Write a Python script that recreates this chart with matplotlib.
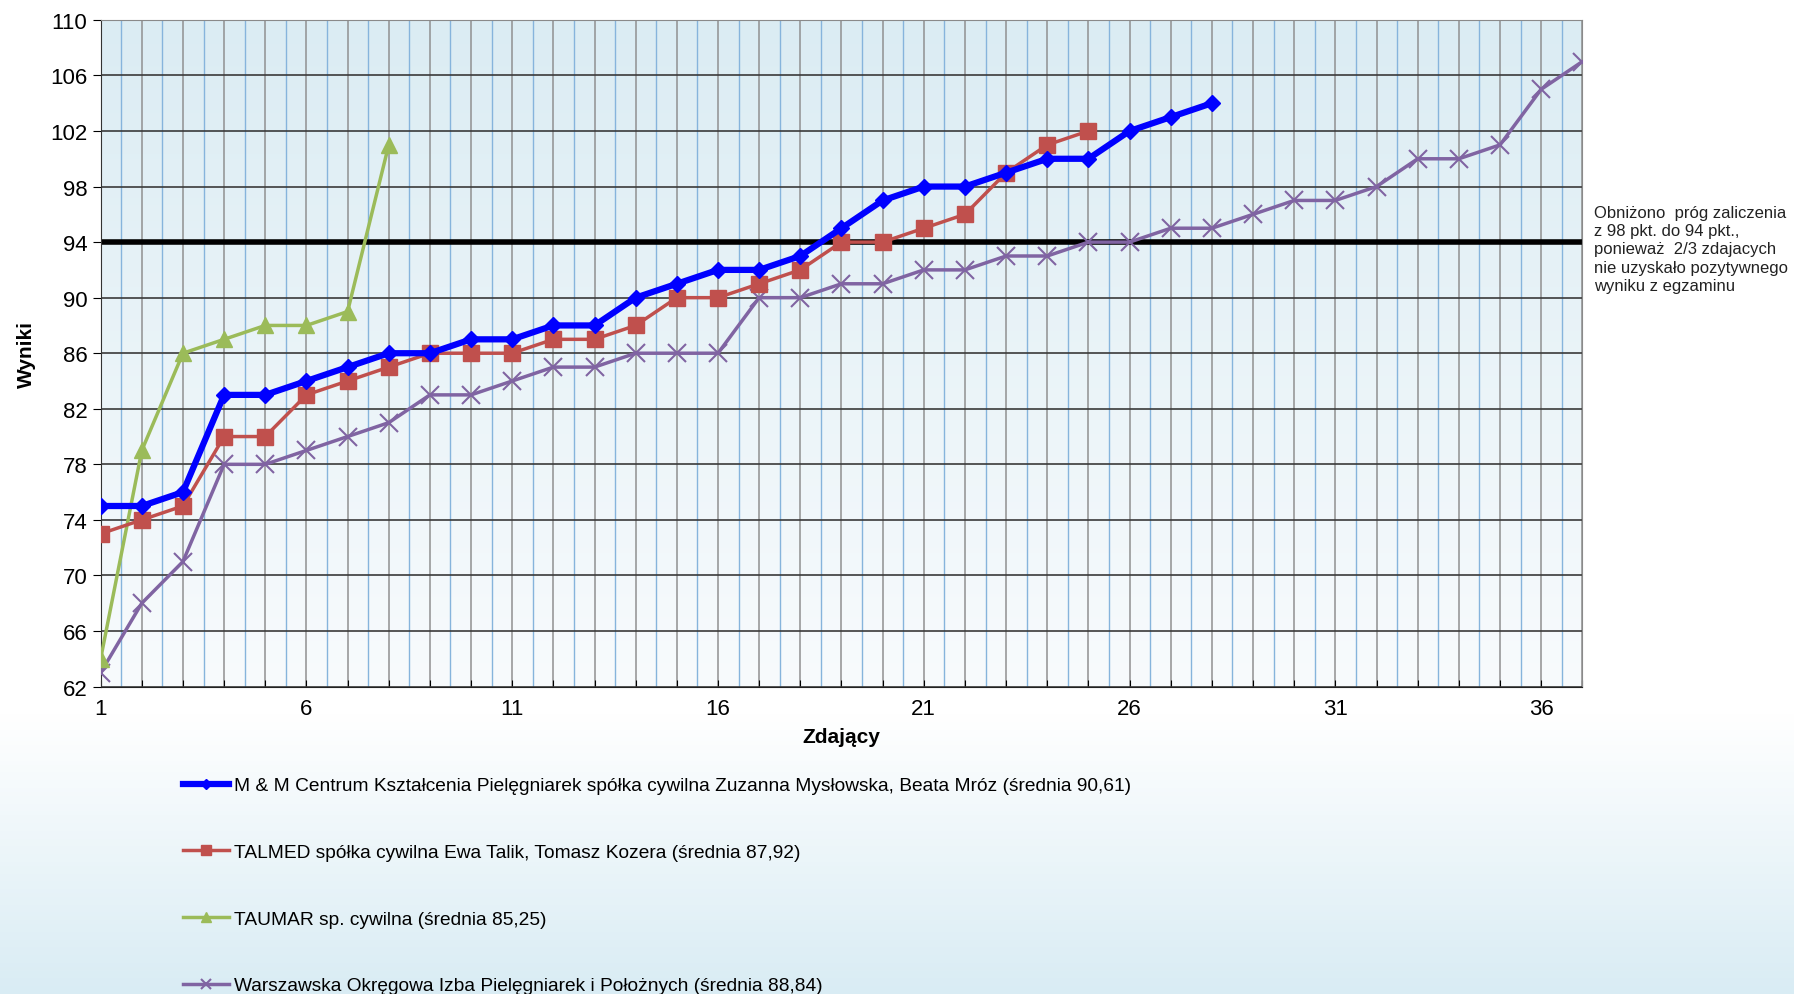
import numpy as np
import matplotlib
matplotlib.use('Agg')
import matplotlib.pyplot as plt
from matplotlib.colors import LinearSegmentedColormap

plt.rcParams['font.family'] = ['Liberation Sans', 'DejaVu Sans']

# data
mm = [75, 75, 76, 83, 83, 84, 85, 86, 86, 87, 87, 88, 88, 90, 91, 92, 92, 93, 95, 97,
      98, 98, 99, 100, 100, 102, 103, 104]
talmed = [73, 74, 75, 80, 80, 83, 84, 85, 86, 86, 86, 87, 87, 88, 90, 90, 91, 92, 94, 94,
          95, 96, 99, 101, 102]
taumar = [64, 79, 86, 87, 88, 88, 89, 101]
woipip = [63, 68, 71, 78, 78, 79, 80, 81, 83, 83, 84, 85, 85, 86, 86, 86, 90, 90, 91, 91,
          92, 92, 93, 93, 94, 94, 95, 95, 96, 97, 97, 98, 100, 100, 101, 105, 107]
labels = ['M & M Centrum Kształcenia Pielęgniarek spółka cywilna Zuzanna Mysłowska, Beata Mróz (średnia 90,61)',
          'TALMED spółka cywilna Ewa Talik, Tomasz Kozera (średnia 87,92)',
          'TAUMAR sp. cywilna (średnia 85,25)',
          'Warszawska Okręgowa Izba Pielęgniarek i Położnych (średnia 88,84)']
threshold = 94
note = ('Obniżono  próg zaliczenia\nz 98 pkt. do 94 pkt.,\nponieważ  2/3 zdajacych\n'
        'nie uzyskało pozytywnego\nwyniku z egzaminu')

fig = plt.figure(figsize=(17.94, 9.95), dpi=100)

# figure background gradient (white -> light blue at bottom)
bg = fig.add_axes([0, 0, 1, 1], zorder=-10)
grad = np.linspace(0, 1, 256).reshape(-1, 1)
grad = np.clip((grad - 0.72) / 0.28, 0, 1)
bg_cmap = LinearSegmentedColormap.from_list('bg', ['#ffffff', '#d9ecf4'])
bg.imshow(grad, aspect='auto', cmap=bg_cmap, extent=[0, 1, 1, 0])
bg.axis('off')

ax = fig.add_axes([0.0561, 0.309, 0.8259, 0.670])
ax.set_xlim(1, 37)
ax.set_ylim(62, 110)

# plot-area gradient
pa_cmap = LinearSegmentedColormap.from_list('pa', ['#f8fbfd', '#dbecf3'])
ax.imshow(np.linspace(0, 1, 256).reshape(-1, 1), aspect='auto', cmap=pa_cmap,
          extent=[1, 37, 62, 110], origin='lower', zorder=0)

# grid
ax.set_xticks(np.arange(1, 38, 1))
ax.set_xticks(np.arange(1.5, 37, 1), minor=True)
ax.set_yticks(np.arange(62, 111, 4))
ax.grid(True, which='major', axis='x', color='#909090', lw=1.1, zorder=1)
ax.grid(True, which='minor', axis='x', color='#86b4dc', lw=1.0, zorder=1)
ax.grid(True, which='major', axis='y', color='#3a3a3a', lw=1.2, zorder=1)
ax.set_xticklabels([str(v) if (v - 1) % 5 == 0 else '' for v in range(1, 38)])
ax.tick_params(axis='x', which='major', direction='in', length=5, labelsize=16, pad=8)
ax.tick_params(axis='x', which='minor', length=0)
ax.tick_params(axis='y', direction='out', length=6, labelsize=16)
for s in ax.spines.values():
    s.set_color('#8a8a8a')
ax.spines['left'].set_color('#333333')
ax.spines['bottom'].set_color('#222222')

ax.axhline(threshold, color='black', lw=4, zorder=2)

ax.plot(range(1, len(mm) + 1), mm, color='#0000ff', lw=4.5, marker='D', ms=8,
        zorder=6, label=labels[0])
ax.plot(range(1, len(talmed) + 1), talmed, color='#c0504d', lw=2.5, marker='s', ms=12,
        zorder=5, label=labels[1])
ax.plot(range(1, len(taumar) + 1), taumar, color='#9bbb59', lw=2.5, marker='^', ms=12,
        zorder=4, label=labels[2])
ax.plot(range(1, len(woipip) + 1), woipip, color='#8064a2', lw=2.5, marker='x', ms=13,
        mew=1.5, zorder=3, label=labels[3])

ax.set_xlabel('Zdający', fontsize=15, fontweight='bold', labelpad=6)
ax.set_ylabel('Wyniki', fontsize=15, fontweight='bold', labelpad=10)

fig.text(0.8885, 0.793, note, fontsize=12, va='top', ha='left', linespacing=1.27,
         color='#222222')

handles, lbls = ax.get_legend_handles_labels()
fig.legend(handles, lbls, loc='upper left', bbox_to_anchor=(0.098, 0.226),
           frameon=False, fontsize=13.8, labelspacing=2.57, handlelength=2.4,
           handletextpad=0.25, markerscale=0.6, borderaxespad=0)

fig.savefig('out.png', dpi=100)
